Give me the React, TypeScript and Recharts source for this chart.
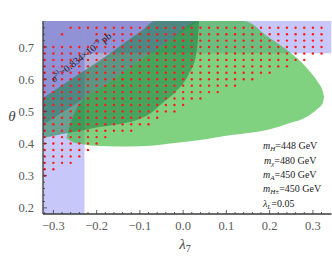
import React from "react";
import { ComposedChart, Area, Scatter, XAxis, YAxis } from "recharts";

const X_DOMAIN = [-0.324, 0.343];
const Y_DOMAIN = [0.181, 0.781];

const X_MAJOR = [-0.3, -0.2, -0.1, 0, 0.1, 0.2, 0.3];
const X_MINOR = [
  -0.32, -0.28, -0.26, -0.24, -0.22, -0.18, -0.16, -0.14, -0.12, -0.08, -0.06, -0.04, -0.02,
  0.02, 0.04, 0.06, 0.08, 0.12, 0.14, 0.16, 0.18, 0.22, 0.24, 0.26, 0.28, 0.32,
];
const Y_MAJOR = [0.2, 0.3, 0.4, 0.5, 0.6, 0.7];
const Y_MINOR = [
  0.22, 0.24, 0.26, 0.28, 0.32, 0.34, 0.36, 0.38, 0.42, 0.44, 0.46, 0.48, 0.52, 0.54, 0.56,
  0.58, 0.62, 0.64, 0.66, 0.68, 0.72, 0.74, 0.76,
];

// shaded regions, [lower, upper] theta for each lambda7
const LEFT_BAND = [
  { x: -0.324, r: [0.181, 0.781] },
  { x: -0.228, r: [0.181, 0.781] },
];
const TOP_BAND = [
  { x: -0.228, r: [0.681, 0.781] },
  { x: 0.343, r: [0.681, 0.781] },
];
const SIGMA_REGION = [
  { x: -0.324, r: [0.458, 0.781] },
  { x: -0.27, r: [0.505, 0.781] },
  { x: -0.228, r: [0.542, 0.781] },
  { x: -0.215, r: [0.555, 0.781] },
  { x: -0.171, r: [0.591, 0.781] },
  { x: -0.145, r: [0.616, 0.781] },
  { x: -0.099, r: [0.66, 0.781] },
  { x: -0.076, r: [0.68, 0.781] },
  { x: -0.039, r: [0.714, 0.781] },
  { x: -0.03, r: [0.722, 0.781] },
  { x: 0.035, r: [0.781, 0.781] },
];
const BIG_ELLIPSE = [
  { x: -0.27, r: [0.417, 0.417] },
  { x: -0.256, r: [0.405, 0.48] },
  { x: -0.228, r: [0.397, 0.542] },
  { x: -0.215, r: [0.394, 0.555] },
  { x: -0.171, r: [0.392, 0.591] },
  { x: -0.145, r: [0.391, 0.616] },
  { x: -0.099, r: [0.392, 0.66] },
  { x: -0.076, r: [0.393, 0.68] },
  { x: -0.039, r: [0.399, 0.714] },
  { x: -0.03, r: [0.4, 0.722] },
  { x: 0.035, r: [0.41, 0.781] },
  { x: 0.116, r: [0.427, 0.781] },
  { x: 0.141, r: [0.431, 0.781] },
  { x: 0.196, r: [0.443, 0.732] },
  { x: 0.247, r: [0.464, 0.684] },
  { x: 0.284, r: [0.482, 0.638] },
  { x: 0.312, r: [0.51, 0.59] },
  { x: 0.322, r: [0.524, 0.566] },
  { x: 0.326, r: [0.545, 0.545] },
];
const TILTED_ELLIPSE = [
  { x: -0.324, r: [0.417, 0.542] },
  { x: -0.279, r: [0.43, 0.582] },
  { x: -0.228, r: [0.442, 0.627] },
  { x: -0.191, r: [0.452, 0.66] },
  { x: -0.145, r: [0.461, 0.704] },
  { x: -0.094, r: [0.48, 0.753] },
  { x: -0.064, r: [0.506, 0.781] },
  { x: -0.053, r: [0.52, 0.781] },
  { x: -0.018, r: [0.56, 0.781] },
  { x: 0.012, r: [0.613, 0.781] },
  { x: 0.03, r: [0.675, 0.781] },
  { x: 0.037, r: [0.781, 0.781] },
];

// scan points: theta row, first and last lambda7 of each run (step 0.02)
const SCAN_ROWS = [
  [0.76, -0.26, 0.32],
  [0.74, -0.28, -0.28],
  [0.74, -0.2, 0.32],
  [0.72, -0.2, 0.32],
  [0.7, -0.32, 0.32],
  [0.68, -0.32, 0.32],
  [0.66, -0.32, 0.28],
  [0.64, -0.32, 0.24],
  [0.62, -0.32, 0.2],
  [0.6, -0.32, 0.16],
  [0.58, -0.32, 0.12],
  [0.56, -0.32, 0.08],
  [0.54, -0.32, 0.04],
  [0.52, -0.32, 0.0],
  [0.5, -0.32, -0.02],
  [0.48, -0.32, -0.06],
  [0.46, -0.32, -0.08],
  [0.44, -0.32, -0.12],
  [0.42, -0.32, -0.18],
  [0.4, -0.32, -0.2],
  [0.38, -0.32, -0.22],
  [0.36, -0.32, -0.24],
  [0.34, -0.32, -0.26],
  [0.32, -0.32, -0.3],
  [0.3, -0.32, -0.32],
];

const DOTS: { x: number; y: number }[] = [];
SCAN_ROWS.forEach(([t, a, b]) => {
  for (let k = Math.round(a * 50); k <= Math.round(b * 50); k++) {
    DOTS.push({ x: k / 50, y: t });
  }
});

const SERIF = "'Liberation Serif', 'DejaVu Serif', serif";
const SPINE = "#3a3a3a";
const LABEL = "#5a5a5a";

const isMajor = (v: number) => Math.abs(v * 10 - Math.round(v * 10)) < 1e-6;
const fmt = (v: number) => (v < -1e-9 ? "\u2212" : "") + Math.abs(v).toFixed(1);

const X_TICKS = [...X_MAJOR, ...X_MINOR].sort((a, b) => a - b);
const Y_TICKS = [...Y_MAJOR, ...Y_MINOR].sort((a, b) => a - b);

function BottomTick({ x, y, payload }: any) {
  const major = isMajor(payload.value);
  return (
    <g>
      <line x1={x} x2={x} y1={y} y2={y - (major ? 4 : 2)} stroke={SPINE} strokeWidth={0.8} />
      {major && (
        <text x={x} y={y + 16} textAnchor="middle" fontFamily={SERIF} fontSize={12.5} fill={LABEL}>
          {fmt(payload.value)}
        </text>
      )}
    </g>
  );
}

function TopTick({ x, y, payload }: any) {
  const major = isMajor(payload.value);
  return <line x1={x} x2={x} y1={y} y2={y + (major ? 4 : 2)} stroke={SPINE} strokeWidth={0.8} />;
}

function LeftTick({ x, y, payload }: any) {
  const major = isMajor(payload.value);
  return (
    <g>
      <line x1={x} x2={x + (major ? 4 : 2)} y1={y} y2={y} stroke={SPINE} strokeWidth={0.8} />
      {major && (
        <text x={x - 9} y={y + 4.5} textAnchor="end" fontFamily={SERIF} fontSize={12.5} fill={LABEL}>
          {fmt(payload.value)}
        </text>
      )}
    </g>
  );
}

function RightTick({ x, y, payload }: any) {
  const major = isMajor(payload.value);
  return <line x1={x} x2={x - (major ? 4 : 2)} y1={y} y2={y} stroke={SPINE} strokeWidth={0.8} />;
}

const dotShape = (p: any) => <circle cx={p.cx} cy={p.cy} r={1.2} fill="#ff1a1a" />;

export default function App() {
  const area = (data: any[], fill: string, opacity: number, key: string) => (
    <Area
      key={key}
      data={data}
      dataKey="r"
      type="monotone"
      stroke="none"
      fill={fill}
      fillOpacity={opacity}
      dot={false}
      activeDot={false}
      isAnimationActive={false}
    />
  );

  return (
    <div style={{ position: "absolute", left: 0, top: 0, width: 332, height: 256, background: "#fff" }}>
      <ComposedChart width={332} height={256} margin={{ top: 21, right: 0.5, bottom: 0, left: 0 }}>
        <XAxis
          dataKey="x"
          type="number"
          domain={X_DOMAIN}
          allowDataOverflow
          ticks={X_TICKS}
          interval={0}
          tick={BottomTick}
          tickLine={false}
          tickSize={0}
          tickMargin={0}
          height={42}
          axisLine={{ stroke: SPINE, strokeWidth: 1.3 }}
        />
        <XAxis
          xAxisId="top"
          orientation="top"
          type="number"
          domain={X_DOMAIN}
          allowDataOverflow
          ticks={X_TICKS}
          interval={0}
          tick={TopTick}
          tickLine={false}
          tickSize={0}
          tickMargin={0}
          height={0}
          axisLine={{ stroke: SPINE, strokeWidth: 1.3 }}
        />
        <YAxis
          dataKey="y"
          type="number"
          domain={Y_DOMAIN}
          allowDataOverflow
          ticks={Y_TICKS}
          interval={0}
          tick={LeftTick}
          tickLine={false}
          tickSize={0}
          tickMargin={0}
          width={43}
          axisLine={{ stroke: SPINE, strokeWidth: 1.3 }}
        />
        <YAxis
          yAxisId="right"
          orientation="right"
          type="number"
          domain={Y_DOMAIN}
          allowDataOverflow
          ticks={Y_TICKS}
          interval={0}
          tick={RightTick}
          tickLine={false}
          tickSize={0}
          tickMargin={0}
          width={0}
          axisLine={{ stroke: SPINE, strokeWidth: 1.3 }}
        />
        {area(LEFT_BAND, "#6b6bf0", 0.38, "left")}
        {area(TOP_BAND, "#6b6bf0", 0.38, "top")}
        {area(SIGMA_REGION, "#5050a8", 0.45, "sigma")}
        {area(BIG_ELLIPSE, "#3cb83c", 0.65, "big")}
        {area(TILTED_ELLIPSE, "#1a8040", 0.55, "tilted")}
        <Scatter data={DOTS} shape={dotShape} isAnimationActive={false} />
      </ComposedChart>
      <svg
        width={332}
        height={256}
        style={{ position: "absolute", left: 0, top: 0, pointerEvents: "none" }}
        fontFamily={SERIF}
      >
        <text x={12} y={121} textAnchor="middle" fontSize={15} fontStyle="italic" fill="#444">
          θ
        </text>
        <text x={185} y={249} textAnchor="middle" fontSize={15} fill="#444">
          <tspan fontStyle="italic">λ</tspan>
          <tspan fontSize={10} dy={3}>7</tspan>
        </text>
        <text
          transform="translate(83,60) rotate(-38)"
          textAnchor="middle"
          fontSize={10}
          fill="#222"
        >
          <tspan fontStyle="italic">σ</tspan>
          <tspan fontSize={6.5} dy={-4}>SI</tspan>
          <tspan dy={4}>{">0.834×10"}</tspan>
          <tspan fontSize={6.5} dy={-4}>{"−9"}</tspan>
          <tspan dy={4}> pb</tspan>
        </text>
        <g fontSize={10} fill="#222">
          <text x={263} y={149}>
            <tspan fontStyle="italic">m</tspan>
            <tspan fontSize={7} dy={2} fontStyle="italic">H</tspan>
            <tspan dy={-2}>=448 GeV</tspan>
          </text>
          <text x={264} y={163.5}>
            <tspan fontStyle="italic">m</tspan>
            <tspan fontSize={7} dy={2} fontStyle="italic">χ</tspan>
            <tspan dy={-2}>=480 GeV</tspan>
          </text>
          <text x={263} y={177.5}>
            <tspan fontStyle="italic">m</tspan>
            <tspan fontSize={7} dy={2} fontStyle="italic">A</tspan>
            <tspan dy={-2}>=450 GeV</tspan>
          </text>
          <text x={263} y={192}>
            <tspan fontStyle="italic">m</tspan>
            <tspan fontSize={7} dy={2} fontStyle="italic">H±</tspan>
            <tspan dy={-2}>=450 GeV</tspan>
          </text>
          <text x={263} y={206.5}>
            <tspan fontStyle="italic">λ</tspan>
            <tspan fontSize={7} dy={2} fontStyle="italic">L</tspan>
            <tspan dy={-2}>=0.05</tspan>
          </text>
        </g>
      </svg>
    </div>
  );
}
